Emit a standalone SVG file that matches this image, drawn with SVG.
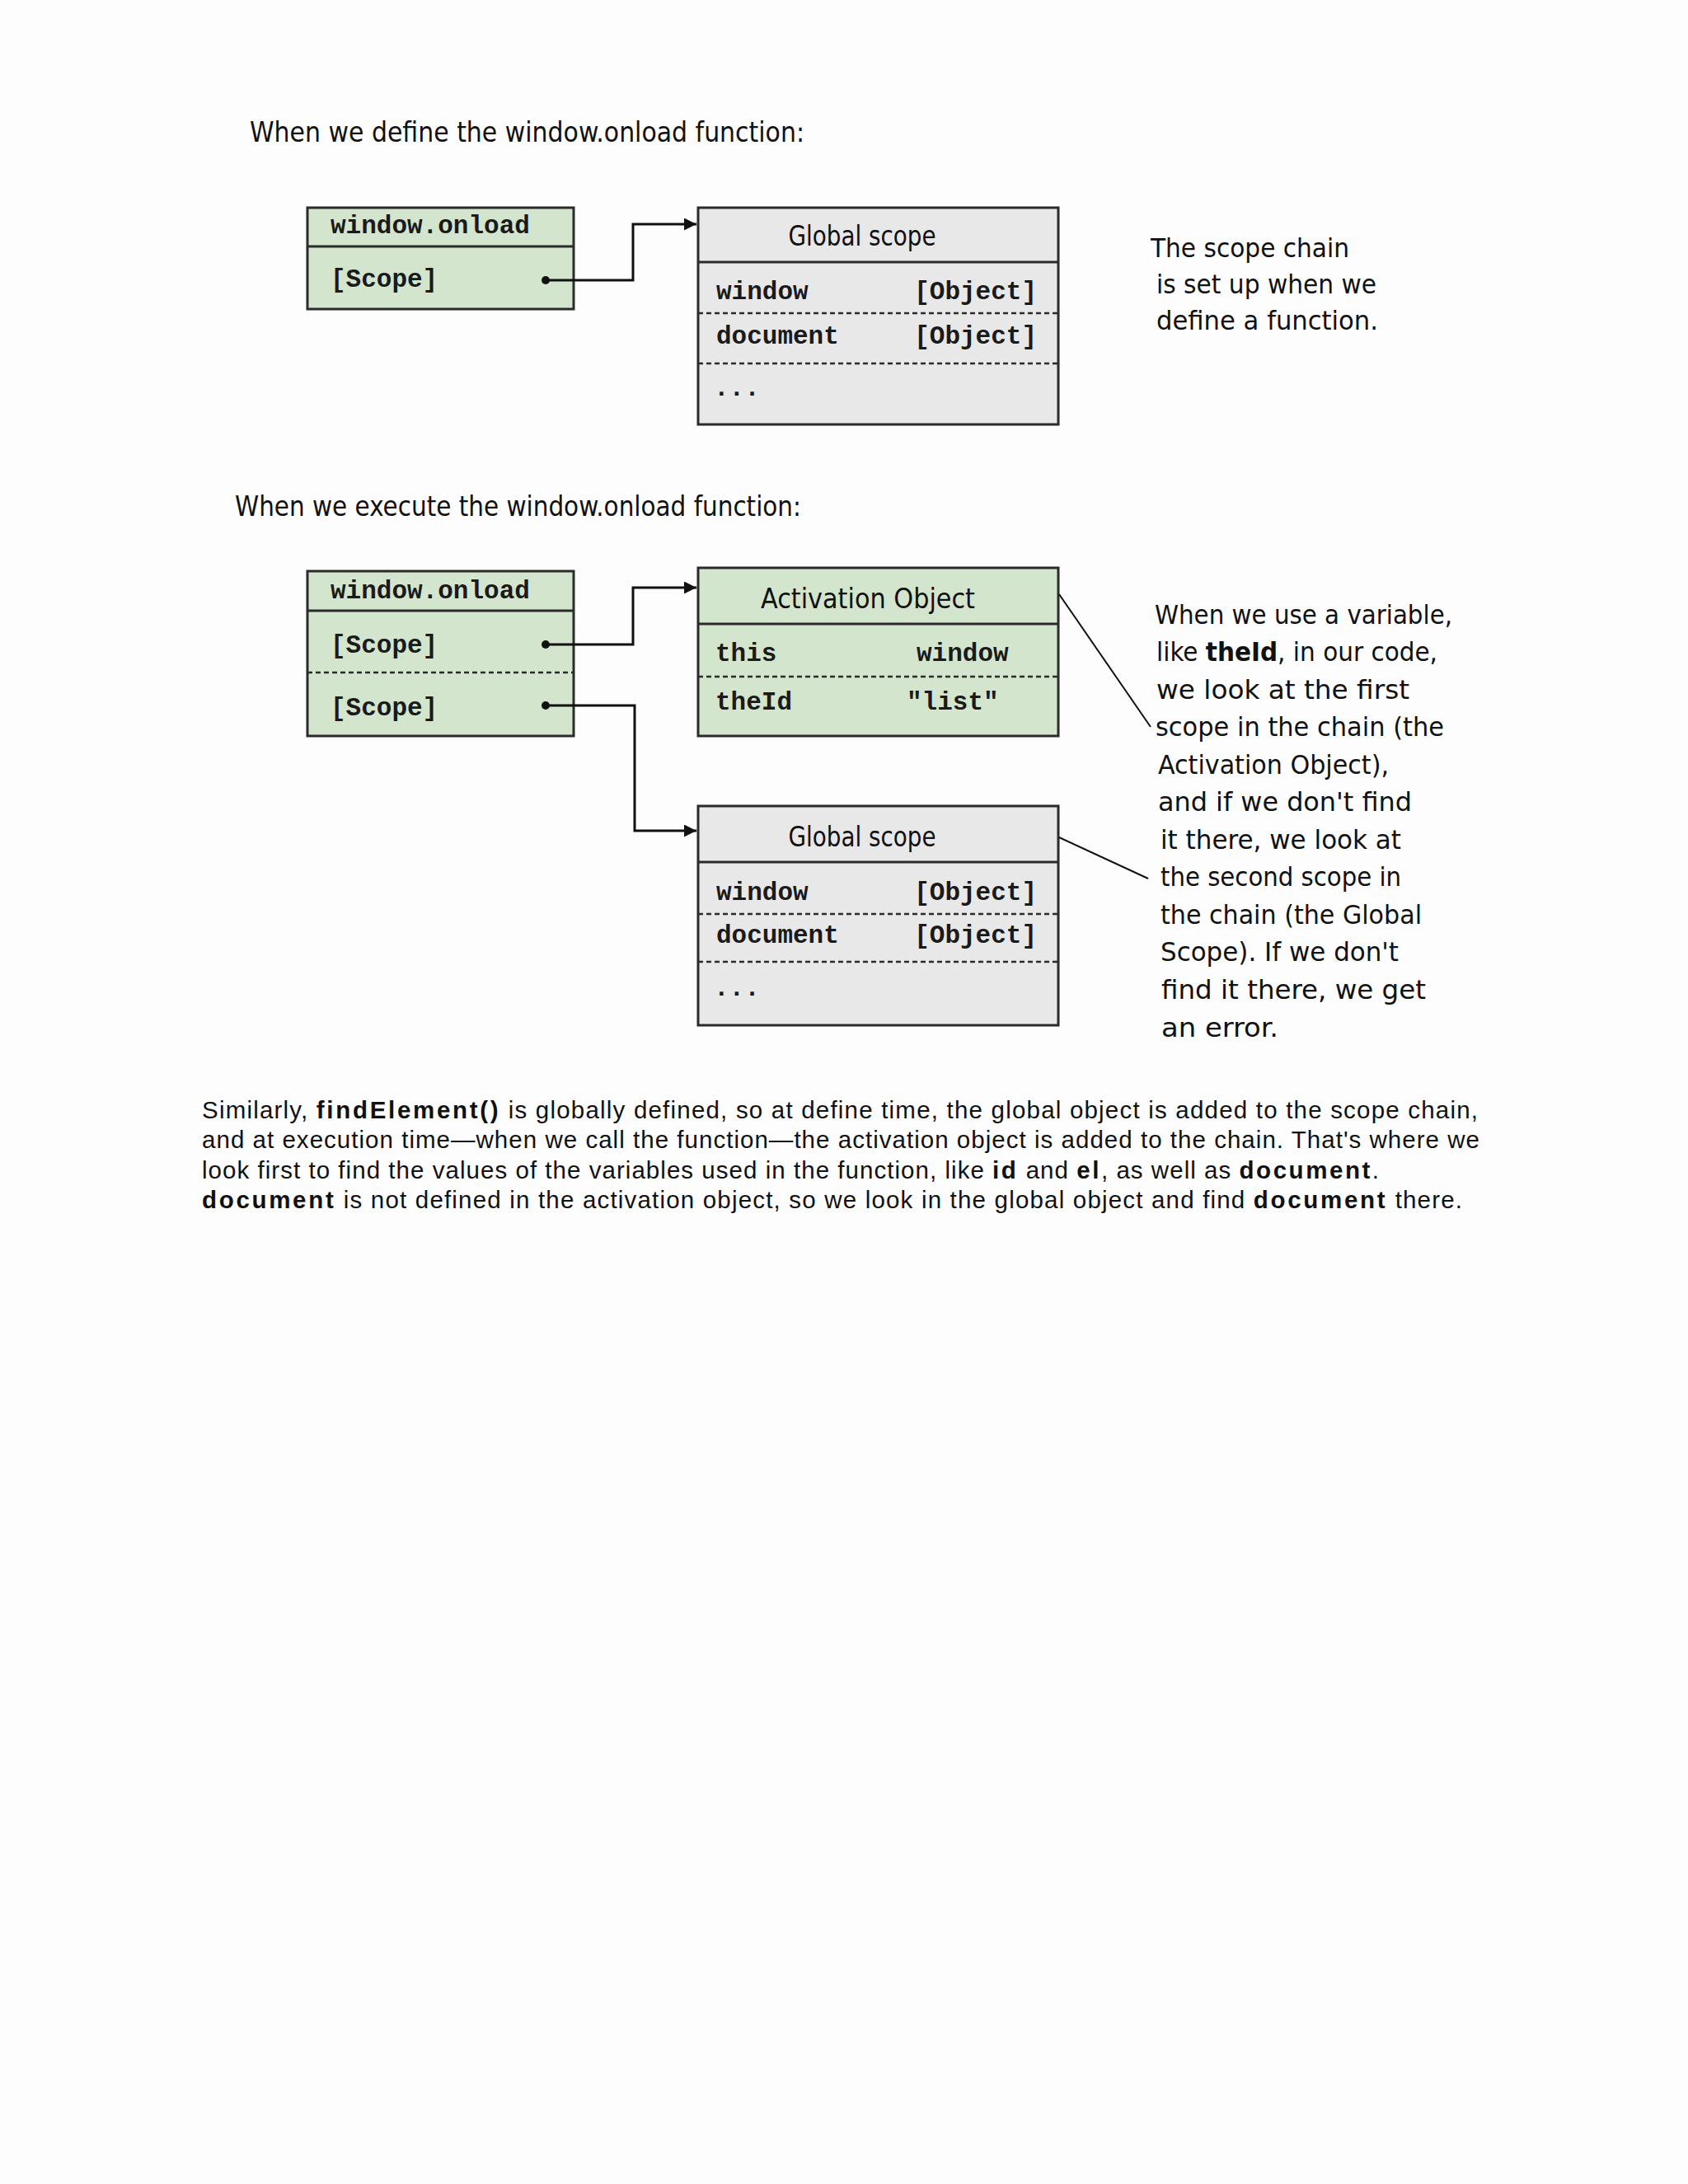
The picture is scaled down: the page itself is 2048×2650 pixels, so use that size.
<svg xmlns="http://www.w3.org/2000/svg" width="2048" height="2650" viewBox="0 0 2048 2650">
<defs>
<style>
.hand{font-family:"DejaVu Sans Condensed","DejaVu Sans",sans-serif;fill:#111;}
.mono{font-family:"Liberation Mono","DejaVu Sans Mono",monospace;font-weight:bold;font-size:31px;fill:#1a1a1a;}
.box{stroke:#2b2b2b;stroke-width:3;}
.green{fill:#d4e5cd;}
.gray{fill:#e8e8e9;}
.solid{stroke:#2b2b2b;stroke-width:3;fill:none;}
.dash{stroke:#2b2b2b;stroke-width:2.5;stroke-dasharray:6 4;fill:none;}
.conn{stroke:#111;stroke-width:3;fill:none;}
.note{stroke:#111;stroke-width:2;fill:none;}
.para{font-family:"Liberation Sans",Arial,sans-serif;font-size:29.5px;fill:#111;}
.b{font-weight:bold;letter-spacing:1.5px;}
</style>
<marker id="arr" viewBox="0 0 10 10" refX="10" refY="5" markerWidth="5" markerHeight="5" orient="auto" markerUnits="strokeWidth">
<path d="M0,0 L10,5 L0,10 z" fill="#111"/>
</marker>
</defs>
<rect x="0" y="0" width="2048" height="2650" fill="#fdfdfd"/>

<g id="title1">
<text class="hand" x="303" y="172" font-size="34" textLength="673" lengthAdjust="spacingAndGlyphs">When we define the window.onload function:</text>
</g>

<g id="onload1">
<rect class="box green" x="373" y="252" width="323" height="123"/>
<line class="solid" x1="373" y1="299" x2="696" y2="299"/>
<text class="mono" x="401" y="283">window.onload</text>
<text class="mono" x="401" y="348">[Scope]</text>
<circle cx="662" cy="340" r="5" fill="#111"/>
</g>

<g id="global1">
<rect class="box gray" x="847" y="252" width="437" height="263"/>
<line class="solid" x1="847" y1="318" x2="1284" y2="318"/>
<line class="dash" x1="847" y1="380" x2="1284" y2="380"/>
<line class="dash" x1="847" y1="441" x2="1284" y2="441"/>
<text class="hand" x="1046" y="298" font-size="33" text-anchor="middle" textLength="179" lengthAdjust="spacingAndGlyphs">Global scope</text>
<text class="mono" x="869" y="363">window</text>
<text class="mono" x="1258" y="363" text-anchor="end">[Object]</text>
<text class="mono" x="869" y="417">document</text>
<text class="mono" x="1258" y="417" text-anchor="end">[Object]</text>
<text class="mono" x="866" y="480">...</text>
</g>

<g id="note1">
<text class="hand" x="1396" y="312" font-size="32" textLength="241" lengthAdjust="spacingAndGlyphs">The scope chain</text>
<text class="hand" x="1403" y="356" font-size="32" textLength="267" lengthAdjust="spacingAndGlyphs">is set up when we</text>
<text class="hand" x="1403" y="400" font-size="32" textLength="269" lengthAdjust="spacingAndGlyphs">define a function.</text>
</g>

<g id="title2">
<text class="hand" x="285" y="626" font-size="34" textLength="687" lengthAdjust="spacingAndGlyphs">When we execute the window.onload function:</text>
</g>

<g id="onload2">
<rect class="box green" x="373" y="693" width="323" height="200"/>
<line class="solid" x1="373" y1="741" x2="696" y2="741"/>
<line class="dash" x1="373" y1="816" x2="696" y2="816"/>
<text class="mono" x="401" y="726">window.onload</text>
<text class="mono" x="401" y="792">[Scope]</text>
<text class="mono" x="401" y="868">[Scope]</text>
<circle cx="662" cy="782" r="5" fill="#111"/>
<circle cx="662" cy="856" r="5" fill="#111"/>
</g>

<g id="activation">
<rect class="box green" x="847" y="689" width="437" height="204"/>
<line class="solid" x1="847" y1="757" x2="1284" y2="757"/>
<line class="dash" x1="847" y1="821" x2="1284" y2="821"/>
<text class="hand" x="1053" y="738" font-size="33" text-anchor="middle" textLength="260" lengthAdjust="spacingAndGlyphs">Activation Object</text>
<text class="mono" x="868" y="802">this</text>
<text class="mono" x="1112" y="802">window</text>
<text class="mono" x="868" y="861">theId</text>
<text class="mono" x="1100" y="861">"list"</text>
</g>

<g id="global2">
<rect class="box gray" x="847" y="978" width="437" height="266"/>
<line class="solid" x1="847" y1="1046" x2="1284" y2="1046"/>
<line class="dash" x1="847" y1="1109" x2="1284" y2="1109"/>
<line class="dash" x1="847" y1="1167" x2="1284" y2="1167"/>
<text class="hand" x="1046" y="1027" font-size="33" text-anchor="middle" textLength="179" lengthAdjust="spacingAndGlyphs">Global scope</text>
<text class="mono" x="869" y="1092">window</text>
<text class="mono" x="1258" y="1092" text-anchor="end">[Object]</text>
<text class="mono" x="869" y="1144">document</text>
<text class="mono" x="1258" y="1144" text-anchor="end">[Object]</text>
<text class="mono" x="866" y="1208">...</text>
</g>

<g id="note2">
<text class="hand" x="1401" y="757" font-size="32" textLength="361" lengthAdjust="spacingAndGlyphs">When we use a variable,</text>
<text class="hand" x="1403" y="802" font-size="32" textLength="341" lengthAdjust="spacingAndGlyphs">like <tspan font-weight="bold">theId</tspan>, in our code,</text>
<text class="hand" x="1403" y="848" font-size="32" textLength="307" lengthAdjust="spacingAndGlyphs">we look at the first</text>
<text class="hand" x="1402" y="893" font-size="32" textLength="350" lengthAdjust="spacingAndGlyphs">scope in the chain (the</text>
<text class="hand" x="1405" y="939" font-size="32" textLength="280" lengthAdjust="spacingAndGlyphs">Activation Object),</text>
<text class="hand" x="1405" y="984" font-size="32" textLength="308" lengthAdjust="spacingAndGlyphs">and if we don't find</text>
<text class="hand" x="1408" y="1030" font-size="32" textLength="292" lengthAdjust="spacingAndGlyphs">it there, we look at</text>
<text class="hand" x="1408" y="1075" font-size="32" textLength="292" lengthAdjust="spacingAndGlyphs">the second scope in</text>
<text class="hand" x="1408" y="1121" font-size="32" textLength="317" lengthAdjust="spacingAndGlyphs">the chain (the Global</text>
<text class="hand" x="1408" y="1166" font-size="32" textLength="289" lengthAdjust="spacingAndGlyphs">Scope). If we don't</text>
<text class="hand" x="1409" y="1212" font-size="32" textLength="321" lengthAdjust="spacingAndGlyphs">find it there, we get</text>
<text class="hand" x="1409" y="1258" font-size="32" textLength="142" lengthAdjust="spacingAndGlyphs">an error.</text>
</g>

<g id="connectors">
<polyline class="conn" points="662,340 768,340 768,272 845,272" marker-end="url(#arr)"/>
<polyline class="conn" points="662,782 768,782 768,713 845,713" marker-end="url(#arr)"/>
<polyline class="conn" points="662,856 770,856 770,1008 845,1008" marker-end="url(#arr)"/>
<line class="note" x1="1285" y1="721" x2="1396" y2="882"/>
<line class="note" x1="1285" y1="1016" x2="1393" y2="1066"/>
</g>

<g id="paragraph">
<text class="para" x="245" y="1357" textLength="1548" lengthAdjust="spacing">Similarly, <tspan class="b">findElement()</tspan> is globally defined, so at define time, the global object is added to the scope chain,</text>
<text class="para" x="245" y="1393" textLength="1550" lengthAdjust="spacing">and at execution time—when we call the function—the activation object is added to the chain. That's where we</text>
<text class="para" x="245" y="1430" textLength="1428" lengthAdjust="spacing">look first to find the values of the variables used in the function, like <tspan class="b">id</tspan> and <tspan class="b">el</tspan>, as well as <tspan class="b">document</tspan>.</text>
<text class="para" x="245" y="1466" textLength="1529" lengthAdjust="spacing"><tspan class="b">document</tspan> is not defined in the activation object, so we look in the global object and find <tspan class="b">document</tspan> there.</text>
</g>
</svg>
